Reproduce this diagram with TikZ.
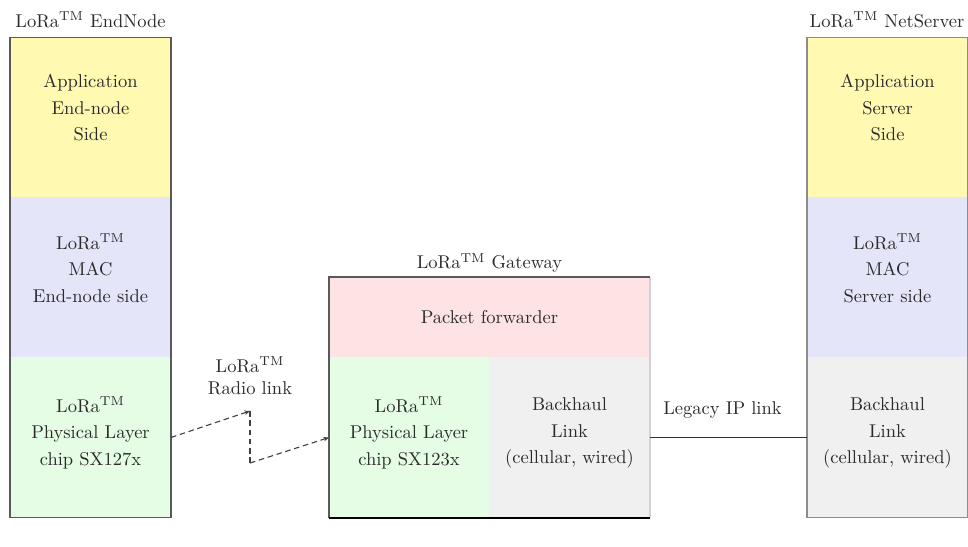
\documentclass[tikz,border=0pt]{standalone}
\usetikzlibrary{arrows.meta}
\definecolor{cyel}{HTML}{FFF9B2}
\definecolor{clav}{HTML}{E5E5FA}
\definecolor{cgrn}{HTML}{E5FDE5}
\definecolor{cpnk}{HTML}{FDE3E4}
\definecolor{cgry}{HTML}{F0F0F0}
\definecolor{ctxt}{HTML}{2A2A2A}
\begin{document}
\begin{tikzpicture}[x=0.54pt,y=-0.54pt,
  cell/.style={draw=none, inner sep=0pt, outer sep=0pt},
  colcell/.style={cell, minimum width=161*0.54pt, minimum height=160*0.54pt},
  frame/.style={draw=black!65, line width=0.6pt},
  txt/.style={align=center, text=ctxt, font=\fontsize{10}{14.3}\selectfont, inner sep=1pt},
  ttl/.style={text=ctxt, font=\fontsize{10}{12}\selectfont, inner sep=1pt},
  radio/.style={draw=black!75, line width=0.6pt, dash pattern=on 3pt off 2pt},
  tip/.style={-{Stealth[length=3pt,width=2.4pt]}}
]
\useasboundingbox (0,0) rectangle (968,547);
\newcommand{\tm}{$^{\mathrm{TM}}$}
% EndNode column
\node[colcell, fill=cyel] (enapp) at (90.5,117.5) {};
\node[colcell, fill=clav] (enmac) at (90.5,277) {};
\node[colcell, fill=cgrn] (enphy) at (90.5,437.5) {};
\draw[frame] (enapp.north west) rectangle (enphy.south east);
\node[ttl] (entitle) at (90.5,20) {LoRa\tm{} EndNode};
\node[txt] (enappt) at (90.5,108) {Application\\End-node\\Side};
\node[txt] (enmact) at (90.5,268) {LoRa\tm\\MAC\\End-node side};
\node[txt] (enphyt) at (90.5,433) {LoRa\tm\\Physical Layer\\chip SX127x};
% Gateway
\node[cell, fill=cpnk, minimum width=321*0.54pt, minimum height=80*0.54pt] (gwpf) at (489.5,317) {};
\node[cell, fill=cgrn, minimum width=160*0.54pt, minimum height=161*0.54pt] (gwphy) at (409,437.5) {};
\node[cell, fill=cgry, minimum width=161*0.54pt, minimum height=161*0.54pt] (gwbh) at (569.5,437.5) {};
\draw[draw=gray!35, line width=0.6pt] (gwpf.north east) -- (gwbh.south east);
\draw[frame] (gwbh.south east |- gwpf.north east) -- (gwpf.north west) -- (gwphy.south west);
\draw[black, line width=0.8pt] (gwphy.south west) -- (gwbh.south east);
\node[ttl] (gwtitle) at (489.5,263) {LoRa\tm{} Gateway};
\node[txt] (gwpft) at (489.5,317) {Packet forwarder};
\node[txt] (gwphyt) at (409,433) {LoRa\tm\\Physical Layer\\chip SX123x};
\node[txt] (gwbht) at (569.5,433) {Backhaul\\Link\\(cellular, wired)};
% NetServer column
\node[colcell, fill=cyel] (nsapp) at (887.5,117.5) {};
\node[colcell, fill=clav] (nsmac) at (887.5,277) {};
\node[colcell, fill=cgry] (nsbh) at (887.5,437.5) {};
\draw[frame, draw=black!45] (nsapp.north west) rectangle (nsbh.south east);
\node[ttl] (nstitle) at (887,20) {LoRa\tm{} NetServer};
\node[txt] (nsappt) at (887.5,108) {Application\\Server\\Side};
\node[txt] (nsmact) at (887.5,268) {LoRa\tm\\MAC\\Server side};
\node[txt] (nsbht) at (887.5,433) {Backhaul\\Link\\(cellular, wired)};
% Radio link
\node[txt, font=\fontsize{10}{12}\selectfont] (radiot) at (250,376) {LoRa\tm\\Radio link};
\coordinate (r1) at (250,411);
\coordinate (r2) at (250,463);
\draw[radio, tip] (enphy.east) -- (r1);
\draw[radio] (r1) -- (r2);
\draw[radio, tip] (r2) -- (gwphy.west);
% Legacy IP link
\draw[black!80, line width=0.9pt] (gwbh.east) -- (nsbh.west);
\node[txt] (legacy) at (722.5,410) {Legacy IP link};
\end{tikzpicture}
\end{document}
